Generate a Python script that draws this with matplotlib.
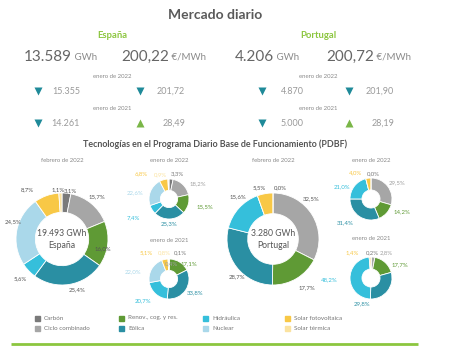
import numpy as np
import matplotlib
matplotlib.use('Agg')
import matplotlib.pyplot as plt

plt.rcParams['font.family'] = ['Lato', 'DejaVu Sans']

W, H = 450, 351

# --- data ---
techs = ['Carbón', 'Ciclo combinado', 'Renov., cog. y res.', 'Eólica',
         'Hidráulica', 'Nuclear', 'Solar fotovoltaica', 'Solar térmica']
tech_colors = ['#7a7a7a', '#a6a6a6', '#5f9a35', '#2a8fa3',
               '#35bfdb', '#aad8ea', '#f8c846', '#fbe3a0']

countries = ['España', 'Portugal']
energia = [13589, 4206]           # GWh febrero 2022
precio = [200.22, 200.72]         # €/MWh febrero 2022
energia_ene22 = [15355, 4870]
precio_ene22 = [201.72, 201.90]
energia_ene21 = [14261, 5000]
precio_ene21 = [28.49, 28.19]

total_pdbf = [19493, 3280]        # GWh

# shares (%) per technology, None = not present
es_feb22 = [3.1, 15.7, 16.0, 25.4, 5.6, 24.5, 8.7, 1.1]
es_ene22 = [3.3, 18.2, 15.5, 25.3, 7.4, 22.6, 6.8, 0.9]
es_ene21 = [0.1, 0.4, 17.1, 33.8, 20.7, 22.0, 5.1, 0.8]
pt_feb22 = [0.0, 32.5, 17.7, 28.7, 15.6, None, 5.5, None]
pt_ene22 = [0.0, 29.5, 14.2, 31.4, 21.0, None, 4.0, None]
pt_ene21 = [0.2, 2.8, 17.7, 29.8, 48.2, None, 1.4, None]


def fmt_int(v):
    return f'{v:,}'.replace(',', '.')


def fmt_dec(v):
    return f'{v:.2f}'.replace('.', ',')


def fmt_pct(v):
    return f'{v:.1f}'.replace('.', ',') + '%'


fig = plt.figure(figsize=(W / 100, H / 100), dpi=100)
fig.patch.set_facecolor('white')
ax0 = fig.add_axes([0, 0, 1, 1])
ax0.set_xlim(0, W)
ax0.set_ylim(H, 0)
ax0.axis('off')
ax0.set_zorder(10)
ax0.patch.set_alpha(0)

GREEN = '#8cc63f'
TEAL = '#1f8a99'

# --- Mercado diario ---
ax0.text(215, 15, 'Mercado diario', ha='center', va='center', fontsize=10,
         fontweight='bold', color='#5a5a5a')

kpi_x = [(112, 24, 121, 38, 140), (318, 235, 326, 262, 349)]
for i, c in enumerate(countries):
    xc, xe, xp, xt1, xt2 = kpi_x[i]
    ax0.text(xc, 36, c, ha='center', va='center', fontsize=6.8,
             fontweight='bold', color=GREEN)
    t = ax0.text(xe, 57, fmt_int(energia[i]), ha='left', va='center',
                 fontsize=11, color='#666666')
    ax0.annotate(' GWh', xycoords=t, xy=(1, 0.5), va='center', ha='left',
                 fontsize=7, color='#8a8a8a')
    t = ax0.text(xp, 57, fmt_dec(precio[i]), ha='left', va='center',
                 fontsize=11, color='#666666')
    ax0.annotate(' €/MWh', xycoords=t, xy=(1, 0.5), va='center', ha='left',
                 fontsize=7, color='#8a8a8a')
    rows = [('enero de 2022', 76, 91, energia_ene22[i], precio_ene22[i]),
            ('enero de 2021', 108, 123, energia_ene21[i], precio_ene21[i])]
    for lab, yl, yv, e_prev, p_prev in rows:
        ax0.text(xc, yl, lab, ha='center', va='center', fontsize=4.3,
                 color='#8a8a8a')
        for xt, off, cur, prev, txt in [(xt1, 42, energia[i], e_prev, fmt_int(e_prev)),
                                        (xt2, 45, precio[i], p_prev, fmt_dec(p_prev))]:
            up = cur > prev
            ax0.plot(xt, yv, marker='^' if up else 'v', ms=6,
                     color='#7ab648' if up else TEAL, mec='none')
            ax0.text(xt + off, yv, txt, ha='right', va='center', fontsize=6.5,
                     color='#9a9a9a')

# --- PDBF ---
ax0.text(215, 144, 'Tecnologías en el Programa Diario Base de Funcionamiento (PDBF)',
         ha='center', va='center', fontsize=6.4, fontweight='bold', color='#555555')

charts = [
    # values, cx, cy, r, inner, title, title_y, big
    (es_feb22, 62, 239, 46, 0.58, 'febrero de 2022', 161, 0),
    (es_ene22, 169, 199, 20, 0.43, 'enero de 2022', 161, None),
    (es_ene21, 169, 279, 20, 0.43, 'enero de 2021', 241, None),
    (pt_feb22, 273, 239, 46, 0.55, 'febrero de 2022', 161, 1),
    (pt_ene22, 371, 199, 21, 0.43, 'enero de 2022', 161, None),
    (pt_ene21, 371, 278, 21, 0.43, 'enero de 2021', 239, None),
]

# label nudges (px) to mimic the original label placement
nudges = {
    (0, 0): (3, 2), (0, 2): (-15, 3), (0, 3): (7, 0), (0, 4): (-2, 2),
    (0, 5): (6, -7), (0, 6): (-17, 0), (0, 7): (-2, 1),
    (1, 0): (6, 0), (1, 1): (8, 5), (1, 2): (7, 0), (1, 3): (-1, 0),
    (1, 4): (-12, 3), (1, 5): (-6, 5), (1, 6): (-21, 0), (1, 7): (-8, 0),
    (2, 0): (11, -2), (2, 1): (2, 9), (2, 2): (5, 8), (2, 3): (1, -3),
    (2, 4): (-7, 0), (2, 5): (-10, 7), (2, 6): (-17, -1), (2, 7): (-4, -2),
    (3, 0): (7, -1), (3, 1): (-10, -11), (3, 2): (6, 2), (3, 3): (8, 4),
    (3, 4): (6, -5), (3, 6): (-5, -1),
    (4, 0): (2, 0), (4, 1): (2, 2), (4, 2): (8, -7), (4, 3): (-10, -1),
    (4, 4): (-5, 6), (4, 6): (-12, 0),
    (5, 0): (1, 0), (5, 1): (13, 1), (5, 2): (9, 9), (5, 3): (-33, 7),
    (5, 4): (-11, 1), (5, 6): (-18, 0),
}

LFS = 4.3
for k, (vals, cx, cy, r, inner, title, ty, big) in enumerate(charts):
    v = np.array([0.0 if x is None else x for x in vals])
    axp = fig.add_axes([(cx - r) / W, 1 - (cy + r) / H, 2 * r / W, 2 * r / H])
    axp.pie(v, colors=tech_colors, startangle=90, counterclock=False,
            radius=1, wedgeprops=dict(width=1 - inner, edgecolor='white', linewidth=0.6))
    axp.set_xlim(-1, 1)
    axp.set_ylim(-1, 1)
    axp.set_aspect('auto')
    axp.axis('off')

    ax0.text(cx, ty, title, ha='center', va='center', fontsize=4.3, color='#8a8a8a')
    if big is not None:
        ax0.text(cx, cy - 5, fmt_int(total_pdbf[big]) + ' GWh', ha='center',
                 va='center', fontsize=6.2, color='#555555')
        ax0.text(cx, cy + 7, countries[big], ha='center', va='center',
                 fontsize=6.2, color='#555555')

    frac = v / v.sum()
    cum = np.cumsum(frac) - frac / 2
    for j, x in enumerate(vals):
        if x is None:
            continue
        theta = np.deg2rad(90 - cum[j] * 360)
        txt = fmt_pct(x)
        wpx = len(txt) * LFS * 1.389 * 0.52
        hpx = LFS * 1.389 * 0.8
        d = r + 2 + abs(np.cos(theta)) * wpx / 2 + abs(np.sin(theta)) * hpx / 2
        dx, dy = nudges.get((k, j), (0, 0))
        lx = cx + d * np.cos(theta) + dx
        ly = cy - d * np.sin(theta) + dy
        col = '#555555' if big is not None else tech_colors[j]
        if big is None and j == 1:
            col = '#a0a0a0'
        ax0.text(lx, ly, txt, ha='center', va='center', fontsize=LFS, color=col)

# --- legend ---
leg_cols = [37, 121, 205, 287]
leg_rows = [318, 328]
for idx, name in enumerate(techs):
    col = [0, 0, 1, 1, 2, 2, 3, 3][idx]
    row = idx % 2
    x, y = leg_cols[col], leg_rows[row]
    ax0.add_patch(plt.Rectangle((x - 2, y - 2), 4.5, 4.5, color=tech_colors[idx]))
    ax0.text(x + 7, y, name, ha='left', va='center', fontsize=4.5, color='#777777')

ax0.plot([11, 418], [344, 344], color=GREEN, lw=2, solid_capstyle='butt')

fig.savefig('out.png', dpi=100, facecolor='white')
